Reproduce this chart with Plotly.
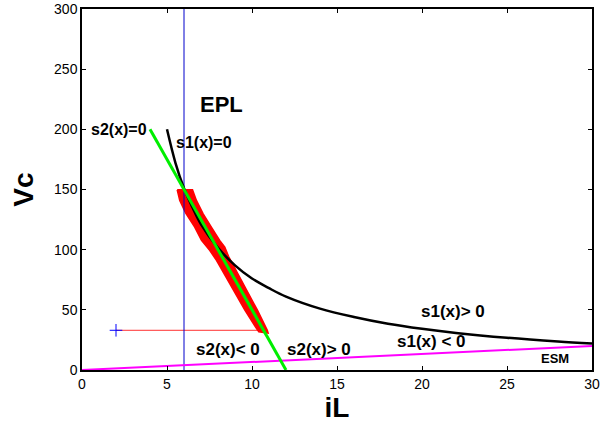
import plotly.graph_objects as go

# s1(x)=0 curve (black)
s1_iL = [5.0, 5.5, 6.0, 6.5, 7.0, 8.0, 9.0, 10.0, 11.0, 12.0, 14.0, 16.0, 18.0, 20.0, 22.0, 25.0, 28.0, 30.0]
s1_Vc = [200, 172, 151, 135, 121, 101.5, 87, 76, 68, 61, 51, 44, 38.4, 34.2, 30.8, 26.8, 23.7, 22]

# s2(x)=0 line (green)
s2_iL = [4.0, 12.0]
s2_Vc = [200, 0]

# ESM line (magenta)
esm_iL = [0, 30]
esm_Vc = [0, 20]

# vertical line at iL = 6
vert_iL = [6, 6]
vert_Vc = [0, 300]

# initial point and horizontal reaching segment
start_iL = [2.0]
start_Vc = [33]
reach_iL = [2.0, 10.9]
reach_Vc = [33, 33]

# sliding trajectory band (red), outline
band_iL = [5.60, 5.75, 6.11, 6.63, 7.03, 7.51, 7.91, 8.25, 8.90, 9.58, 10.20, 10.40,
           10.95, 10.90, 10.32, 9.70, 9.05, 8.62, 8.40, 8.10, 7.61, 7.12, 6.73, 6.50, 5.60]
band_Vc = [149.7, 140.9, 130.1, 118.8, 107.7, 99.4, 91.2, 82.9, 66.3, 49.7, 35.9, 31.7,
           30.7, 33.1, 49.7, 66.3, 82.9, 94.5, 102.2, 107.7, 118.8, 129.9, 140.9, 149.7, 149.7]

# text labels
lab_text = ["EPL", "s2(x)=0", "s1(x)=0", "s2(x)< 0", "s2(x)> 0", "s1(x)> 0", "s1(x) < 0", "ESM"]
lab_x = [8.2, 2.17, 7.16, 8.57, 13.97, 21.84, 20.53, 27.83]
lab_y = [221, 200.2, 188.7, 17, 17, 48.3, 23.5, 9.5]
lab_size = [22, 16, 16, 17, 17, 17, 17, 13]

x_ticks = [0, 5, 10, 15, 20, 25, 30]
y_ticks = [0, 50, 100, 150, 200, 250, 300]

FONT = "Liberation Sans, Arial"

fig = go.Figure()
fig.add_trace(go.Scatter(x=reach_iL, y=reach_Vc, mode="lines",
                         line=dict(color="#ff3030", width=1)))
fig.add_trace(go.Scatter(x=band_iL, y=band_Vc, mode="lines", fill="toself",
                         fillcolor="#ff0000", line=dict(color="#ff0000", width=1.5)))
fig.add_trace(go.Scatter(x=vert_iL, y=vert_Vc, mode="lines",
                         line=dict(color="#0000cc", width=1)))
fig.add_trace(go.Scatter(x=esm_iL, y=esm_Vc, mode="lines",
                         line=dict(color="#ff00ff", width=2)))
fig.add_trace(go.Scatter(x=s1_iL, y=s1_Vc, mode="lines", line_shape="spline",
                         line=dict(color="black", width=2.5)))
fig.add_trace(go.Scatter(x=s2_iL, y=s2_Vc, mode="lines",
                         line=dict(color="#00ee00", width=3)))
fig.add_trace(go.Scatter(x=start_iL, y=start_Vc, mode="markers",
                         marker=dict(symbol="cross-thin", size=9,
                                     line=dict(color="#0000ff", width=1))))

for t, x, y, s in zip(lab_text, lab_x, lab_y, lab_size):
    fig.add_annotation(x=x, y=y, text="<b>%s</b>" % t, showarrow=False,
                       font=dict(family=FONT, size=s, color="black"))

axis_common = dict(showgrid=False, zeroline=False, showline=True, linecolor="black",
                   linewidth=1.5, mirror="ticks", ticks="inside", ticklen=4,
                   tickcolor="black", automargin=False,
                   tickfont=dict(family=FONT, size=14, color="black"))

fig.update_xaxes(range=[0, 30], tickvals=x_ticks,
                 title=dict(text="<b>iL</b>", standoff=2,
                            font=dict(family=FONT, size=28, color="black")),
                 **axis_common)
fig.update_yaxes(range=[0, 300], tickvals=y_ticks,
                 title=dict(text="<b>Vc</b>", standoff=12,
                            font=dict(family=FONT, size=28, color="black")),
                 **axis_common)

fig.update_layout(width=610, height=423, showlegend=False,
                  plot_bgcolor="white", paper_bgcolor="white",
                  margin=dict(l=82, r=18, t=9, b=53))

fig.write_html("out.html", config={"displayModeBar": False},
               post_script="document.body.style.margin='0px';")
